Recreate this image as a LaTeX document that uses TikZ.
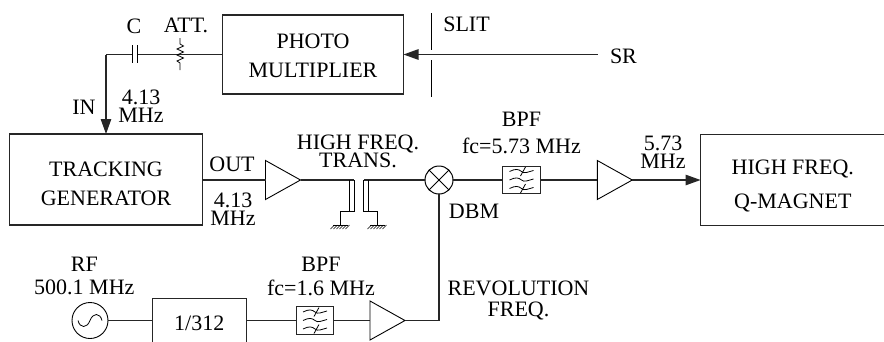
\documentclass[tikz,border=0pt]{standalone}
\usepackage{fontspec}
\setmainfont{Liberation Serif}
\usetikzlibrary{arrows.meta,shapes.geometric}
\lineskiplimit=-20pt
\newcommand\firstline[1]{\vrule height #1pt width 0pt\relax}
\tikzset{
  lab/.style={anchor=base,inner sep=0pt,outer sep=0pt,font=\fontsize{22}{23}\selectfont},
  stack/.style={anchor=south,inner sep=0pt,outer sep=0pt,align=center,text depth=0pt,
    font=\fontsize{22}{#1}\selectfont},
  conn/.style={line width=1.2pt,black!85},
  arr/.style={conn,-{Triangle[length=15pt,width=10.5pt]}},
  thin line/.style={line width=0.9pt,black},
  box/.style={draw,line width=1.2pt,black!85,text=black,inner sep=0pt,outer sep=0pt,align=center,
    font=\fontsize{22}{29}\selectfont},
  amp/.style={draw,line width=0.9pt,isosceles triangle,isosceles triangle stretches,
    minimum width=39pt,minimum height=35pt,inner sep=0pt,outer sep=0pt,anchor=apex},
  mixer/.style={draw,line width=1pt,circle,minimum size=28pt,inner sep=0pt,outer sep=0pt},
  fbox/.style={draw,line width=1.2pt,black!85,minimum width=37.5pt,minimum height=27.3pt,inner sep=0pt,outer sep=0pt},
  osc/.style={draw,line width=0.9pt,circle,minimum size=36pt,inner sep=0pt,outer sep=0pt},
  pics/filtericon/.style={code={
    \foreach \yy in {-8.5,0,8.5}{
      \draw[line width=0.8pt] (-12,\yy) .. controls (-6,\yy-3) and (-3,\yy-2.5) .. (0,\yy) .. controls (3,\yy+2.5) and (6,\yy+0.5) .. (12,\yy-1);
    }
    \draw[line width=0.8pt] (-1,-4) -- (4,-13);
    \draw[line width=0.8pt] (-1,13) -- (4,4);
  }},
  pics/groundsym/.style={code={
    \draw[line width=0.9pt] (-7.5,0) -- (7.5,0);
    \foreach \xx in {-6,-3,0,3,6,9}{\draw[line width=0.6pt] (\xx,0) -- (\xx-4,4);}
  }}
}
\begin{document}
\begin{tikzpicture}[x=1pt,y=-1pt]
\useasboundingbox (0,0) rectangle (884,341);
\clip (0,0) rectangle (884,341);
% boxes
\node[box,minimum width=181pt,minimum height=79pt] (pm) at (313,54.5) {\firstline{16.6}PHOTO\\MULTIPLIER};
\node[box,minimum width=193.5pt,minimum height=91pt] (tg) at (106,179.5) {\firstline{23.4}TRACKING\\GENERATOR};
\node[box,minimum width=184.5pt,minimum height=90.5pt] (qm) at (792.8,180) {\firstline{26.4}HIGH FREQ.\\[4.4pt]Q-MAGNET};
\node[box,minimum width=94pt,minimum height=44.7pt] (div) at (199.3,320.5) {\firstline{20}1/312};
% top chain
\coordinate (sr) at (597.5,54.5);
\coordinate (corner) at (106,54.5);
\coordinate (c1) at (132.3,54.5);
\coordinate (c2) at (137.3,54.5);
\coordinate (att) at (180,54.5);
\draw[arr] (sr) -- (pm.east);
\draw[conn] (pm.west) -- (att) -- (c2);
\draw[conn] (c1) -- (corner);
\draw[arr] (corner) -- (tg.north);
\draw[thin line] (132.3,45) -- (132.3,63) (137.3,45) -- (137.3,63);
\draw[line width=0.8pt] (180,38) -- (180,44) -- (183.5,46) -- (177,49) -- (183.5,52) -- (177,55) -- (183.5,58) -- (177,61) -- (180,63) -- (180,70);
\draw[thin line] (431.5,13) -- (431.5,50) (431.5,60) -- (431.5,97);
% middle chain
\node[amp] (a1) at (300.5,180) {};
\node[mixer] (mx) at (439,180) {};
\draw[line width=0.9pt] (mx.45) -- (mx.225) (mx.135) -- (mx.315);
\node[fbox] (f1) at (521.5,180) {};
\pic at (f1.center) {filtericon};
\node[amp] (a2) at (632.3,180) {};
\draw[conn] (tg.east |- a1.lower side) -- (a1.lower side);
\coordinate (tl) at (349.3,180);
\coordinate (tr) at (363.9,180);
\draw[conn] (a1.apex) -- (354,180);
\draw[conn] (tr) -- (mx.west);
\draw[conn] (mx.east) -- (f1.west);
\draw[conn] (f1.east) -- (a2.lower side);
\draw[arr] (a2.apex) -- (qm.west);
% transformer
\draw[line width=1pt] (349.3,180) -- (349.3,211) (354,180) -- (354,211) -- (340.5,211) -- (340.5,225);
\draw[line width=1pt] (363.9,180) -- (363.9,211) -- (377.5,211) -- (377.5,225) (368.7,180) -- (368.7,211);
\draw[line width=1pt] (349.3,211) -- (354,211);
\pic at (340.5,225) {groundsym};
\pic at (377.5,225) {groundsym};
% bottom chain
\node[osc] (o) at (90,320.5) {};
\draw[line width=0.8pt] (78,320.5) .. controls (80,328.5) and (87,328.5) .. (90,320.5) .. controls (93,312.5) and (100,312.5) .. (102,320.5);
\node[fbox] (f2) at (315,320.5) {};
\pic at (f2.center) {filtericon};
\node[amp] (a3) at (405,320.5) {};
\coordinate (jn) at (439,320.5);
\draw[conn] (o.east) -- (div.west);
\draw[conn] (div.east) -- (f2.west);
\draw[conn] (f2.east) -- (a3.lower side);
\draw[conn] (a3.apex) -- (jn) -- (mx.south);
% labels
\node[lab] (lc) at (134,33.5) {C};
\node[lab] (latt) at (186,32) {ATT.};
\node[lab,anchor=base west] (lslit) at (443.3,31) {SLIT};
\node[lab,anchor=base west] (lsr) at (610,63) {SR};
\node[lab] (lin) at (84,114) {IN};
\node[stack=18.6] (l1) at (141,122.7) {4.13\\MHz};
\node[lab] (lout) at (232,171) {OUT};
\node[stack=18] (l3) at (233,225.3) {4.13\\MHz};
\node[stack=18.4] (l5) at (358,167.7) {HIGH FREQ.\\TRANS.};
\node[lab] (l7) at (474,218.7) {DBM};
\node[stack=27] (l8) at (521.5,153) {BPF\\fc=5.73 MHz};
\node[stack=18.3] (l10) at (663,168.3) {5.73\\MHz};
\node[stack=22.6] (l12) at (84.3,294.3) {RF\\500.1 MHz};
\node[stack=23.3] (l14) at (321,295) {BPF\\fc=1.6 MHz};
\node[stack=21] (l16) at (518.5,316) {REVOLUTION\\FREQ.};
\end{tikzpicture}
\end{document}
